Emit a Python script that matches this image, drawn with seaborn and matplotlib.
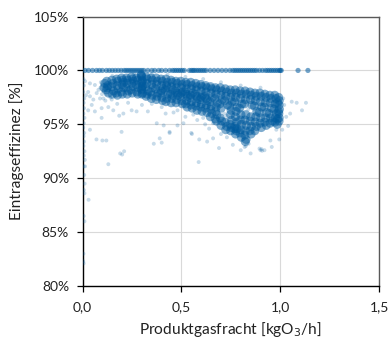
import matplotlib
matplotlib.use("Agg")
import matplotlib.pyplot as plt
import seaborn as sns
import pandas as pd
from matplotlib.ticker import FixedLocator, FuncFormatter

# --- Messdaten: Produktgasfracht [kgO3/h] und Eintragseffizienz [%] ---

# dichter Kern der Punktwolke
kern = [
    (0.108, 98.4), (0.112, 98.8),
    (0.122, 99.0), (0.127, 98.6), (0.119, 98.2), (0.130, 97.9), (0.125, 98.4),
    (0.148, 99.1), (0.153, 98.8), (0.146, 98.5), (0.156, 98.1), (0.150, 97.8),
    (0.172, 99.2), (0.178, 99.0), (0.174, 98.6), (0.180, 98.3), (0.169, 97.9), (0.176, 97.7),
    (0.197, 99.3), (0.203, 99.1), (0.199, 98.7), (0.206, 98.4), (0.195, 98.0), (0.201, 97.8), (0.208, 98.9),
    (0.222, 99.3), (0.228, 99.1), (0.224, 98.8), (0.219, 98.4), (0.231, 98.1), (0.226, 97.8),
    (0.247, 99.4), (0.253, 99.2), (0.249, 98.8), (0.255, 98.5), (0.244, 98.2), (0.251, 97.9), (0.258, 99.0),
    (0.272, 99.3), (0.278, 99.1), (0.270, 98.7), (0.281, 98.4), (0.274, 98.0), (0.279, 97.8),
    (0.297, 99.6), (0.300, 99.4), (0.302, 99.1), (0.298, 98.8), (0.301, 98.5), (0.299, 98.2),
    (0.303, 97.9), (0.300, 97.8), (0.296, 99.5), (0.304, 98.6), (0.301, 99.0), (0.299, 98.3),
    (0.322, 99.4), (0.328, 99.2), (0.324, 98.8), (0.319, 98.5), (0.331, 98.1), (0.326, 97.8), (0.321, 97.6),
    (0.347, 99.3), (0.353, 99.1), (0.349, 98.7), (0.356, 98.4), (0.344, 98.0), (0.351, 97.7), (0.348, 97.4),
    (0.372, 99.3), (0.378, 99.0), (0.374, 98.7), (0.369, 98.3), (0.381, 97.9), (0.376, 97.6), (0.373, 97.3),
    (0.397, 99.2), (0.403, 99.0), (0.399, 98.6), (0.406, 98.3), (0.394, 97.9), (0.401, 97.5), (0.404, 97.2), (0.398, 98.1),
    (0.422, 99.2), (0.428, 98.9), (0.424, 98.6), (0.419, 98.2), (0.431, 97.8), (0.426, 97.4), (0.421, 97.1), (0.429, 98.4),
    (0.447, 99.1), (0.453, 98.9), (0.449, 98.5), (0.456, 98.2), (0.444, 97.8), (0.451, 97.4), (0.448, 97.0), (0.455, 97.7),
    (0.472, 99.0), (0.478, 98.8), (0.474, 98.4), (0.469, 98.1), (0.481, 97.7), (0.476, 97.3), (0.473, 97.0), (0.479, 97.9),
    (0.497, 99.0), (0.503, 98.7), (0.499, 98.4), (0.506, 98.0), (0.494, 97.6), (0.501, 97.2), (0.504, 96.9), (0.498, 97.9),
    (0.522, 98.9), (0.528, 98.7), (0.524, 98.3), (0.519, 98.0), (0.531, 97.6), (0.526, 97.2), (0.521, 96.9), (0.529, 96.6), (0.524, 97.8),
    (0.547, 98.9), (0.553, 98.6), (0.549, 98.3), (0.556, 97.9), (0.544, 97.5), (0.551, 97.1), (0.548, 96.8), (0.554, 96.5), (0.546, 97.7),
    (0.572, 98.8), (0.578, 98.5), (0.574, 98.2), (0.569, 97.8), (0.581, 97.4), (0.576, 97.0), (0.573, 96.7), (0.579, 96.3), (0.577, 97.6),
    (0.597, 98.7), (0.603, 98.5), (0.599, 98.1), (0.606, 97.7), (0.594, 97.3), (0.601, 96.9), (0.598, 96.6), (0.604, 96.2), (0.600, 97.5),
    (0.622, 98.6), (0.628, 98.4), (0.624, 98.0), (0.619, 97.6), (0.631, 97.2), (0.626, 96.8), (0.621, 96.5), (0.629, 96.1), (0.625, 97.4),
    (0.647, 98.5), (0.653, 98.3), (0.649, 97.9), (0.656, 97.5), (0.644, 97.1), (0.651, 96.7), (0.648, 96.4), (0.654, 96.0), (0.646, 95.7),
    (0.672, 98.4), (0.678, 98.2), (0.674, 97.8), (0.669, 97.4), (0.681, 97.0), (0.676, 96.6), (0.673, 96.2), (0.679, 95.9), (0.671, 95.5), (0.677, 95.3),
    (0.697, 98.4), (0.703, 98.1), (0.699, 97.7), (0.706, 97.3), (0.694, 96.9), (0.701, 96.5), (0.704, 95.3), (0.700, 94.9), (0.696, 95.6),
    (0.722, 98.3), (0.728, 98.0), (0.724, 97.6), (0.719, 97.2), (0.733, 96.8), (0.721, 95.2), (0.729, 94.8), (0.724, 94.5),
    (0.747, 98.2), (0.753, 97.9), (0.749, 97.5), (0.756, 97.1), (0.744, 96.7), (0.751, 96.3), (0.748, 95.9), (0.754, 95.4),
    (0.746, 95.0), (0.752, 94.7), (0.749, 94.4),
    (0.772, 98.2), (0.778, 97.9), (0.774, 97.5), (0.769, 97.1), (0.781, 96.6), (0.776, 96.2), (0.773, 95.7), (0.779, 95.2),
    (0.771, 94.8), (0.777, 94.4), (0.774, 94.1), (0.768, 94.6), (0.781, 94.6),
    (0.797, 98.1), (0.803, 97.8), (0.799, 97.4), (0.806, 96.9), (0.794, 96.5), (0.801, 95.9), (0.798, 95.4), (0.804, 95.0),
    (0.800, 94.5), (0.796, 94.2), (0.803, 93.8),
    (0.822, 98.1), (0.828, 97.8), (0.824, 97.3), (0.819, 96.9), (0.826, 95.9), (0.821, 95.4), (0.829, 94.9),
    (0.824, 94.4), (0.820, 94.0), (0.827, 93.6), (0.823, 93.4),
    (0.847, 98.0), (0.853, 97.7), (0.849, 97.3), (0.857, 96.8), (0.851, 95.7), (0.848, 95.3), (0.854, 94.8),
    (0.846, 94.4), (0.852, 94.1),
    (0.872, 97.9), (0.878, 97.6), (0.874, 97.2), (0.869, 96.7), (0.881, 96.2), (0.876, 95.7), (0.873, 95.2), (0.879, 94.8), (0.871, 94.4),
    (0.897, 97.9), (0.903, 97.6), (0.899, 97.1), (0.906, 96.6), (0.894, 96.1), (0.901, 95.6), (0.898, 95.1), (0.904, 94.7),
    (0.922, 97.8), (0.928, 97.5), (0.924, 97.0), (0.919, 96.6), (0.931, 96.1), (0.926, 95.6), (0.921, 95.2), (0.929, 94.9),
    (0.947, 97.7), (0.953, 97.4), (0.949, 97.0), (0.956, 96.5), (0.944, 96.0), (0.951, 95.6), (0.948, 95.1),
    (0.972, 97.7), (0.978, 97.4), (0.974, 96.9), (0.969, 96.4), (0.981, 96.0), (0.976, 95.6), (0.973, 95.2),
    (0.992, 97.5), (0.995, 97.2), (0.994, 96.8), (0.996, 96.4), (0.993, 96.0), (0.995, 95.6), (0.994, 95.3),
    (0.988, 97.0), (0.991, 96.2), (0.986, 95.5), (0.962, 95.3), (0.985, 95.0),
]

# vereinzelte Messpunkte ausserhalb des Kerns
streu = [
    # Anfahrbereich nahe 0 kgO3/h
    (0.004, 99.2), (0.006, 98.6), (0.003, 98.0), (0.008, 97.4), (0.005, 97.0), (0.007, 96.5),
    (0.004, 96.0), (0.009, 95.6), (0.006, 95.1), (0.003, 94.7), (0.008, 94.2), (0.005, 93.9),
    (0.007, 93.4), (0.004, 93.0), (0.009, 92.5), (0.006, 92.1), (0.011, 91.7), (0.005, 91.1),
    (0.012, 91.1), (0.008, 90.3), (0.010, 89.5), (0.006, 88.9), (0.009, 88.6), (0.030, 88.0),
    (0.005, 86.5), (0.009, 86.0), (0.004, 83.0), (0.003, 82.3), (0.005, 82.1),
    # lockere Wolke links vom Kern
    (0.012, 99.0), (0.037, 98.8), (0.062, 98.65), (0.028, 98.0), (0.017, 97.7), (0.037, 97.6),
    (0.071, 97.9), (0.054, 97.3), (0.088, 97.4), (0.046, 96.8), (0.028, 96.3), (0.062, 96.2),
    (0.096, 96.5), (0.130, 96.6), (0.155, 96.3), (0.147, 97.3), (0.206, 96.0), (0.248, 96.3),
    (0.273, 96.2), (0.037, 94.5), (0.096, 95.6), (0.197, 94.3), (0.070, 93.6), (0.100, 93.5),
    (0.120, 93.5), (0.190, 92.3), (0.210, 92.5), (0.200, 92.2), (0.130, 91.3),
    (0.080, 98.2), (0.115, 97.2), (0.175, 96.9), (0.230, 97.0), (0.300, 96.8), (0.185, 95.8),
    (0.092, 98.9), (0.098, 97.8), (0.105, 97.4), (0.090, 98.4), (0.101, 98.7), (0.104, 98.1),
    (0.140, 97.5), (0.120, 97.8),
    # unterhalb des Kerns
    (0.375, 95.1), (0.410, 94.9), (0.440, 94.3), (0.360, 93.2), (0.390, 93.7), (0.400, 93.3),
    (0.440, 94.2), (0.480, 94.9), (0.510, 95.1), (0.550, 94.2), (0.553, 94.1), (0.590, 93.6),
    (0.630, 93.4), (0.660, 93.7), (0.690, 92.8), (0.760, 93.1), (0.800, 92.6), (0.850, 92.3),
    (0.920, 92.6), (0.950, 93.5), (0.980, 94.5), (0.995, 93.6), (0.957, 92.9), (0.840, 93.2),
    (0.587, 91.5), (0.330, 96.2), (0.420, 96.0), (0.460, 96.1), (0.520, 95.7), (0.580, 95.4),
    (0.620, 95.0), (0.640, 94.6), (0.700, 94.1), (0.730, 93.8),
    (0.350, 96.9), (0.400, 96.6), (0.480, 96.3), (0.560, 95.9), (0.610, 95.6), (0.660, 95.1),
    (0.820, 92.9), (0.826, 93.0), (0.895, 92.75), (0.900, 92.6), (0.905, 92.7), (0.908, 92.55),
    (0.838, 96.4), (0.716, 96.0), (0.728, 95.8),
    # oberhalb des Kerns
    (0.150, 99.5), (0.260, 99.7), (0.350, 99.7), (0.430, 99.6), (0.520, 99.4), (0.610, 99.2),
    (0.700, 98.9), (0.800, 98.6), (0.900, 98.4),
    # rechts von 1,0 kgO3/h
    (1.058, 97.1), (1.083, 97.0), (1.130, 97.0), (1.110, 96.3), (1.050, 96.0), (1.040, 94.85),
    (1.010, 94.5), (1.030, 95.7), (1.020, 96.8), (1.015, 97.4),
]

# Punkte, die bei 100 % Eintragseffizienz liegen (Produktgasfracht)
voll_x = [
    0.012, 0.030, 0.050, 0.070, 0.085, 0.100, 0.120, 0.135, 0.150, 0.165, 0.180, 0.195,
    0.210, 0.220, 0.230, 0.240, 0.250, 0.260, 0.270, 0.280, 0.290, 0.300, 0.310,
    0.330, 0.350, 0.365, 0.385, 0.400, 0.420, 0.440,
    0.455, 0.465, 0.475, 0.485, 0.495, 0.505, 0.515,
    0.540, 0.550, 0.558, 0.565, 0.575, 0.585, 0.595, 0.605, 0.615, 0.625,
    0.645, 0.665, 0.685, 0.705, 0.725, 0.745,
    0.760, 0.770, 0.780, 0.790, 0.800, 0.810, 0.820, 0.830, 0.840, 0.850, 0.860,
    0.870, 0.880, 0.895, 0.910, 0.925, 0.935, 0.945, 0.955, 0.965, 0.975,
    0.985, 0.995, 1.000, 1.005,
    1.090, 1.140,
]
voll_y = [100.0] * len(voll_x)

x_ticks = [0.0, 0.5, 1.0, 1.5]
y_ticks = [80, 85, 90, 95, 100, 105]

farbe = "#005b9f"

df_kern = pd.DataFrame(kern, columns=["fracht", "effizienz"])
df_streu = pd.DataFrame(streu, columns=["fracht", "effizienz"])
df_voll = pd.DataFrame({"fracht": voll_x, "effizienz": voll_y})

sns.set_theme(style="white")
plt.rcParams["font.family"] = ["Lato", "DejaVu Sans"]

fig = plt.figure(figsize=(3.88, 3.45), dpi=100)
ax = fig.add_axes([0.213, 0.171, 0.764, 0.781])

sns.scatterplot(data=df_streu, x="fracht", y="effizienz", ax=ax, color=farbe,
                s=8, alpha=0.22, linewidth=0, edgecolor="none", zorder=3)
sns.scatterplot(data=df_kern, x="fracht", y="effizienz", ax=ax, color=farbe,
                s=42, alpha=0.5, linewidth=0, edgecolor="none", zorder=3)
sns.scatterplot(data=df_voll, x="fracht", y="effizienz", ax=ax, color=farbe,
                s=14, alpha=0.55, linewidth=0, edgecolor="none", zorder=3)

ax.set_xlim(0, 1.5)
ax.set_ylim(80, 105)
ax.xaxis.set_major_locator(FixedLocator(x_ticks))
ax.yaxis.set_major_locator(FixedLocator(y_ticks))
ax.xaxis.set_major_formatter(FuncFormatter(lambda v, p: f"{v:.1f}".replace(".", ",")))
ax.yaxis.set_major_formatter(FuncFormatter(lambda v, p: f"{v:.0f}%"))

ax.grid(True, color="#d9d9d9", linewidth=0.8, zorder=0)
ax.set_axisbelow(True)

for side in ("left", "bottom"):
    ax.spines[side].set_color("#000000")
    ax.spines[side].set_linewidth(1.0)
for side in ("top", "right"):
    ax.spines[side].set_color("#595959")
    ax.spines[side].set_linewidth(1.0)

ax.tick_params(axis="both", which="major", direction="out", length=4.3, width=0.9,
               color="#000000", labelsize=10, labelcolor="#222222")
ax.tick_params(axis="y", pad=5.5)
ax.tick_params(axis="x", pad=6.5)
ax.tick_params(left=True, bottom=True)

ax.set_xlabel("Produktgasfracht [kgO$_3$/h]", fontsize=11.2, color="#222222", labelpad=5)
ax.set_ylabel("Eintragseffizinez [%]", fontsize=11.2, color="#222222", labelpad=7)

fig.savefig("out.png", dpi=100)
